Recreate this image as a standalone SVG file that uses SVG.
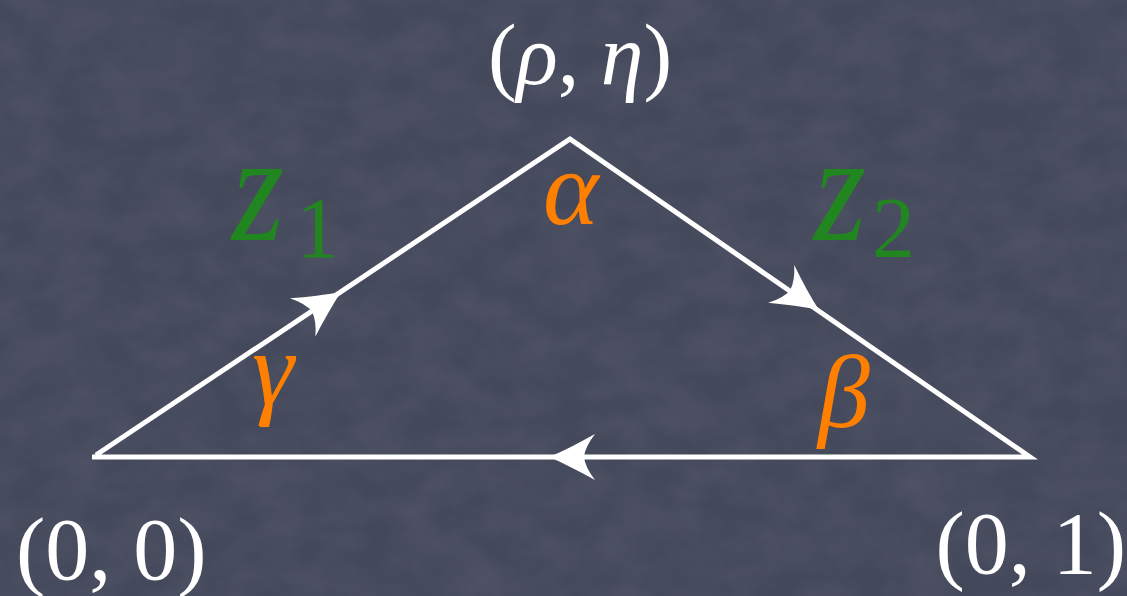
<svg xmlns="http://www.w3.org/2000/svg" width="1127" height="596" viewBox="0 0 1127 596">
<style>
.lbl{font-family:"Liberation Serif","Times New Roman",serif;fill:#ffffff}
.it{font-style:italic}
.green{font-family:"Liberation Serif","Times New Roman",serif;fill:#21861f}
.orange{font-family:"Liberation Serif","Times New Roman",serif;fill:#ff7f00;font-style:italic}
.edge{stroke:#ffffff;stroke-width:5;fill:none;stroke-linecap:butt;stroke-linejoin:miter}
.head{fill:#ffffff}
</style>
<defs>
<filter id="chalk" x="0" y="0" width="100%" height="100%">
<feTurbulence type="fractalNoise" baseFrequency="0.02 0.03" numOctaves="4" seed="7" result="n"/>
<feColorMatrix in="n" type="matrix" values="0 0 0 0 0.55  0 0 0 0 0.57  0 0 0 0 0.66  0 0 0 0.6 -0.15" result="c"/>
<feComposite in="c" in2="SourceGraphic" operator="in"/>
</filter>
<path id="ah" d="M0,0 C-14,-6 -30,-14 -46,-23 Q-36,-10 -35,0 Q-36,10 -46,23 C-30,14 -14,6 0,0 Z"/>
</defs>
<rect width="1127" height="596" fill="#44485b"/>
<rect width="1127" height="596" fill="#44485b" filter="url(#chalk)" opacity="0.2"/>
<g id="connectors">
<path class="edge" d="M96,455 L570,139 L1030,457 L92,457"/>
<use href="#ah" class="head" transform="translate(341,292) rotate(-33.6)"/>
<use href="#ah" class="head" transform="translate(819,310) rotate(34.6)"/>
<use href="#ah" class="head" transform="translate(549,457) rotate(180)"/>
</g>
<g id="node-rho-eta"><text class="lbl" x="580" y="84" font-size="86" text-anchor="middle">(<tspan class="it">ρ</tspan>, <tspan class="it">η</tspan>)</text></g>
<g id="node-00"><text class="lbl" x="16" y="579" font-size="88">(0, 0)</text></g>
<g id="node-01"><text class="lbl" x="1126" y="573" font-size="88" text-anchor="end">(0, 1)</text></g>
<g id="label-z1"><text class="green" font-size="134" font-style="italic" transform="translate(232,240) scale(1,1.15)">z</text><text class="green" x="296" y="257" font-size="86">1</text></g>
<g id="label-z2"><text class="green" font-size="134" font-style="italic" transform="translate(814,240) scale(1,1.15)">z</text><text class="green" x="872" y="257" font-size="86">2</text></g>
<g id="angle-alpha"><text class="orange" x="543" y="224" font-size="106">α</text></g>
<g id="angle-beta"><text class="orange" x="818" y="427" font-size="104">β</text></g>
<g id="angle-gamma"><text class="orange" x="252" y="404" font-size="106">γ</text></g>
</svg>
